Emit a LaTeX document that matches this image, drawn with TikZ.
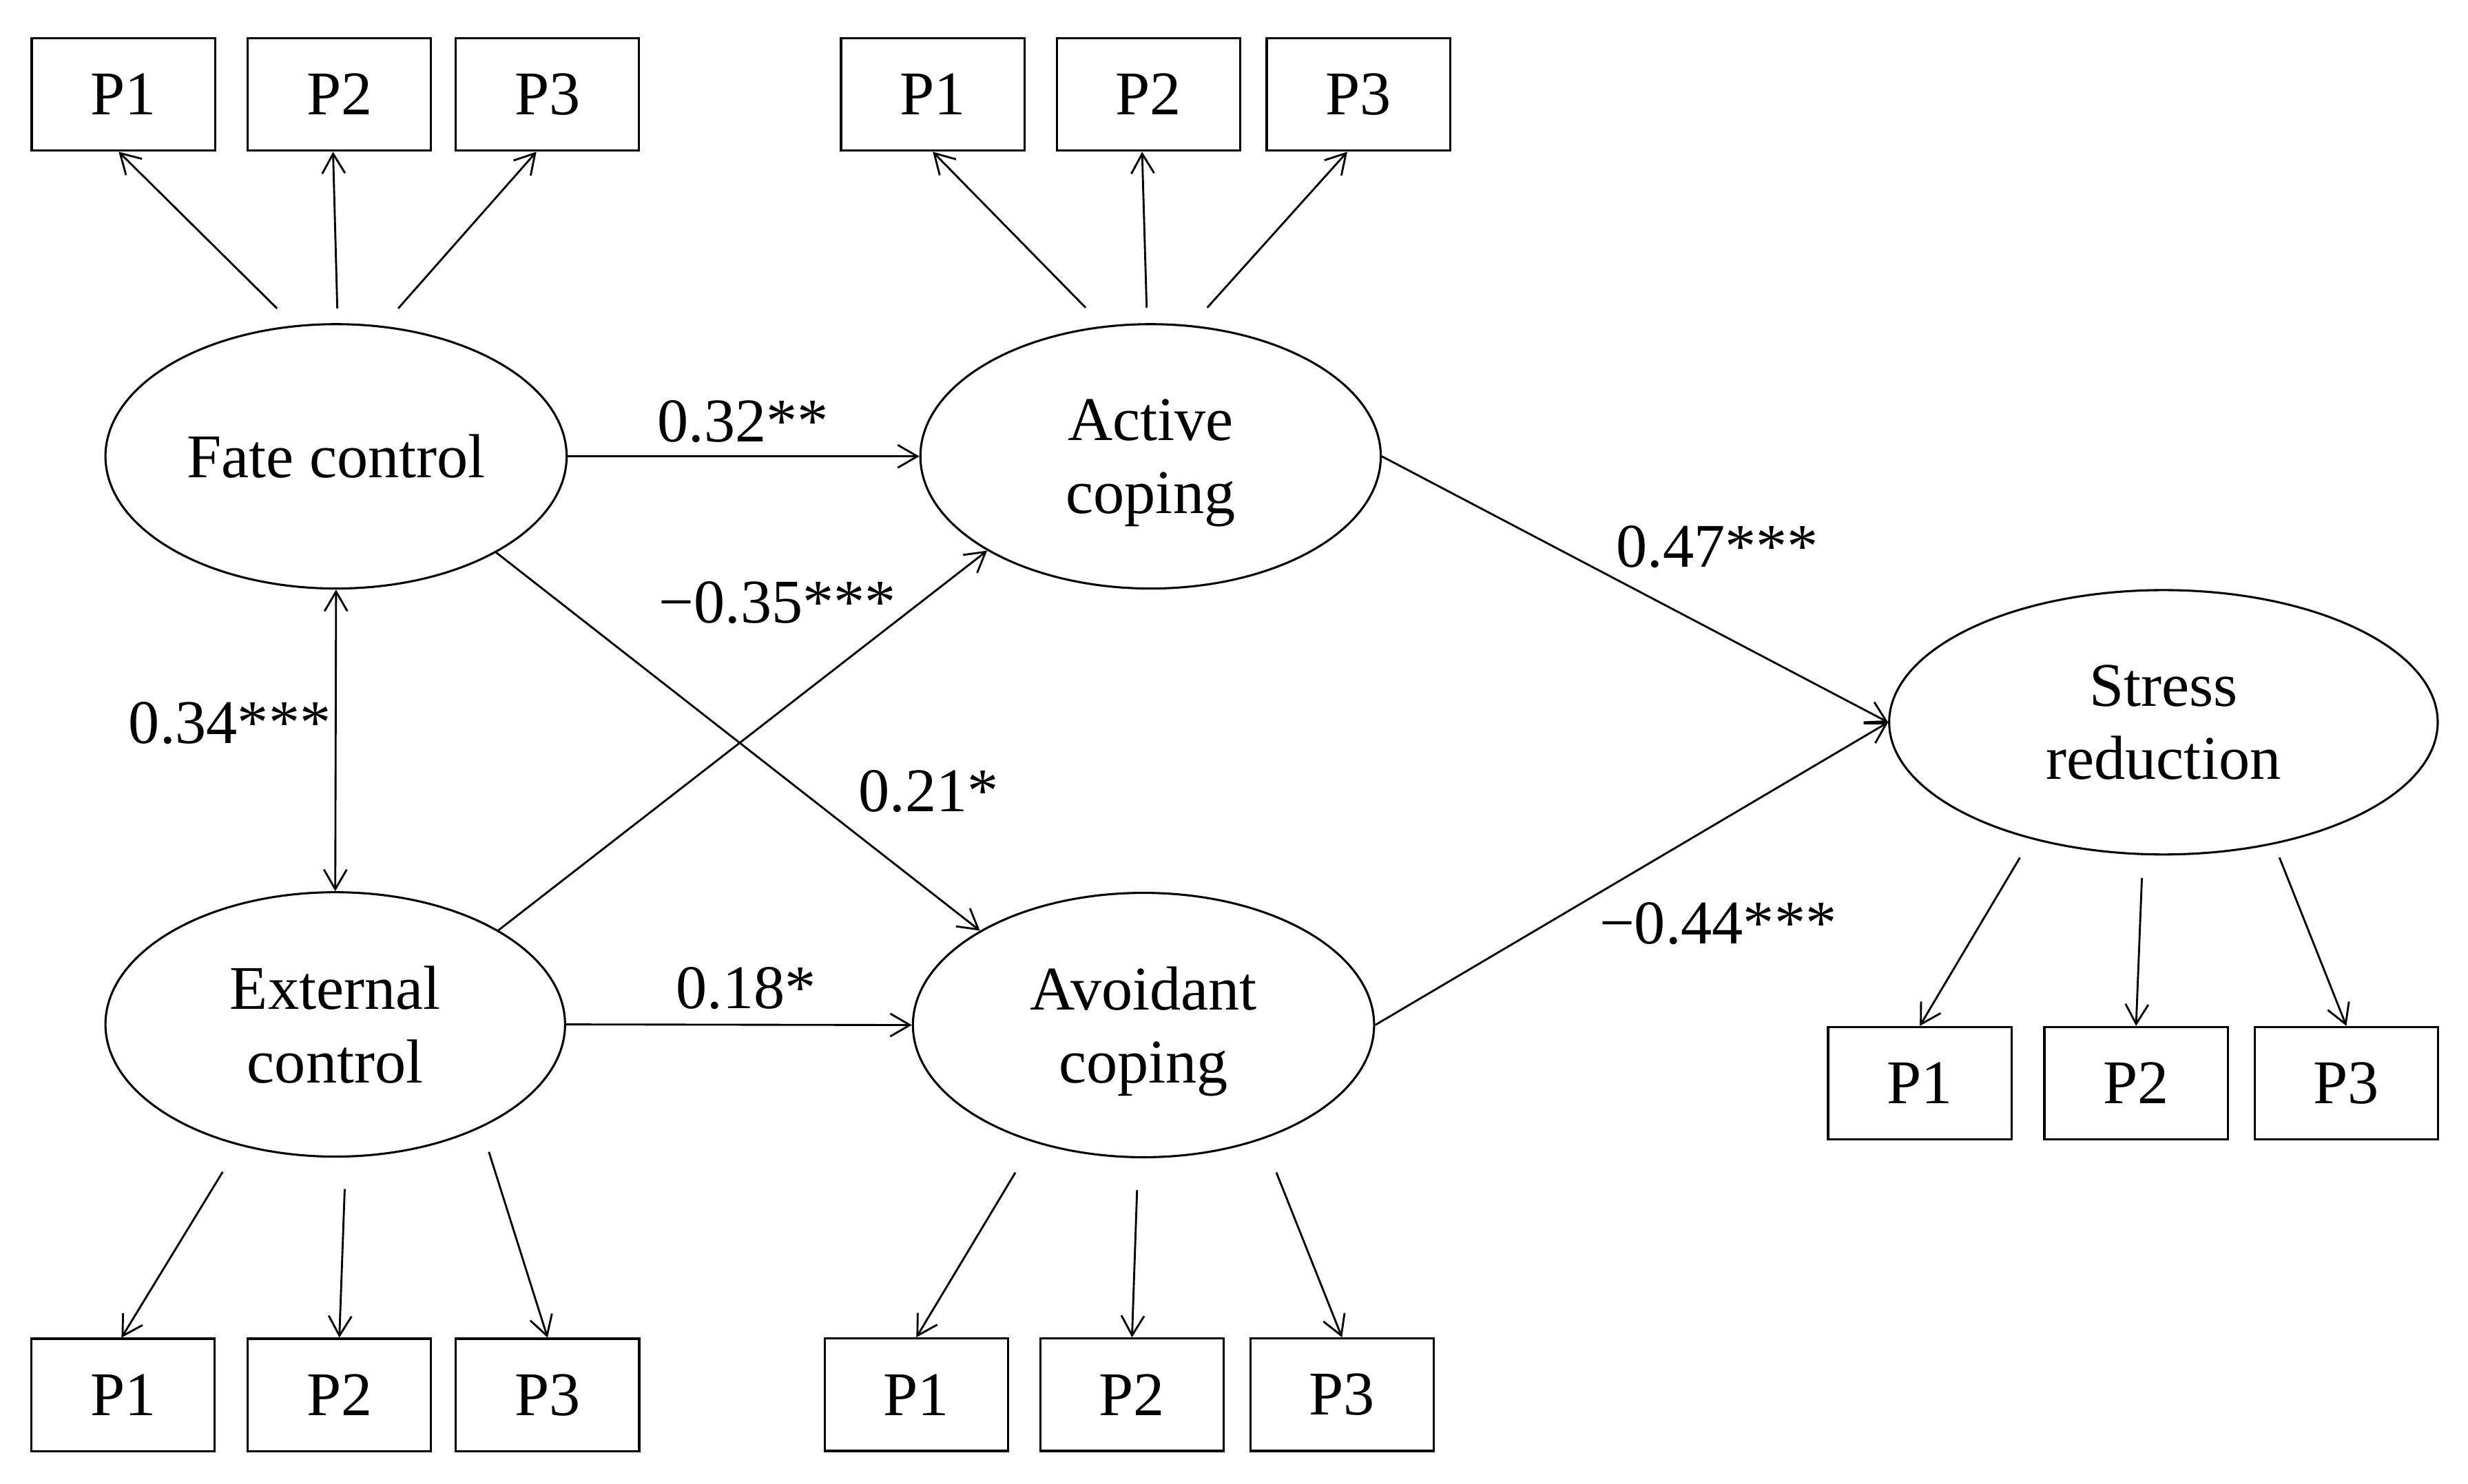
\documentclass[tikz,border=0pt]{standalone}
\usepackage{fontspec}
\setmainfont{Liberation Serif}
\usetikzlibrary{arrows.meta,shapes.geometric}
\begin{document}
\begin{tikzpicture}[x=1pt,y=-1pt,
  every node/.style={font=\fontsize{39.5}{46.5}\selectfont, inner sep=0pt},
  ind/.style={draw, line width=1.4pt, minimum width=116.5pt, minimum height=71.5pt},
  lat/.style={draw, ellipse, line width=1.35pt, minimum height=168pt, align=center},
  arr/.style={line width=1.25pt, -{Straight Barb[length=12.5pt,width=14.5pt]}},
  darr/.style={line width=1.25pt, {Straight Barb[length=12.5pt,width=14.5pt]}-{Straight Barb[length=12.5pt,width=14.5pt]}}]
\useasboundingbox (0,0) rectangle (1568,943);

% latent variables
\node[lat, minimum width=293pt] (fate) at (213.5,290) {Fate control};
\node[lat, minimum width=292.5pt] (active) at (731,290) {Active\\\smash{coping}};
\node[lat, minimum width=292pt] (ext) at (213,651) {External\\\smash{control}};
\node[lat, minimum width=293pt] (avoid) at (726.5,651.4) {Avoidant\\\smash{coping}};
\node[lat, minimum width=348.5pt] (stress) at (1374.5,459) {Stress\\\smash{reduction}};

% indicators
\node[ind] (fp1) at (78.4,60) {P1};
\node[ind] (fp2) at (215.6,60) {P2};
\node[ind] (fp3) at (347.8,60) {P3};
\node[ind] (ap1) at (592.6,60) {P1};
\node[ind] (ap2) at (729.6,60) {P2};
\node[ind] (ap3) at (863,60) {P3};
\node[ind] (ep1) at (78.2,886.5) {P1};
\node[ind] (ep2) at (215.6,886.5) {P2};
\node[ind] (ep3) at (347.9,886.5) {P3};
\node[ind] (vp1) at (582.2,886.3) {P1};
\node[ind] (vp2) at (719.2,886.3) {P2};
\node[ind] (vp3) at (852.6,886.3) {P3};
\node[ind] (sp1) at (1219.7,688.4) {P1};
\node[ind] (sp2) at (1357.1,688.4) {P2};
\node[ind] (sp3) at (1490.7,688.4) {P3};

% free start points of the loading arrows
\coordinate (fs1) at (176,196);
\coordinate (fs2) at (214.3,196);
\coordinate (fs3) at (253,196);
\coordinate (as1) at (689.7,195.5);
\coordinate (as2) at (728.5,195.5);
\coordinate (as3) at (767,195.5);
\coordinate (es1) at (141.5,744.7);
\coordinate (es2) at (219,755.6);
\coordinate (es3) at (310.6,732);
\coordinate (vs1) at (645.1,745.1);
\coordinate (vs2) at (722.4,756.3);
\coordinate (vs3) at (810.9,745.1);
\coordinate (ss1) at (1283.3,545);
\coordinate (ss2) at (1360.8,557.9);
\coordinate (ss3) at (1448.2,545);

\draw[arr] (fs1) -- ([xshift=-3pt]fp1.south);
\draw[arr] (fs2) -- ([xshift=-4pt]fp2.south);
\draw[arr] (fs3) -- ([xshift=-7pt]fp3.south);
\draw[arr] (as1) -- (ap1.south);
\draw[arr] (as2) -- ([xshift=-4pt]ap2.south);
\draw[arr] (as3) -- ([xshift=-7pt]ap3.south);
\draw[arr] (es1) -- ([xshift=-1pt]ep1.north);
\draw[arr] (es2) -- (ep2.north);
\draw[arr] (es3) -- (ep3.north);
\draw[arr] (vs1) -- (vp1.north);
\draw[arr] (vs2) -- (vp2.north);
\draw[arr] (vs3) -- (vp3.north);
\draw[arr] (ss1) -- (sp1.north);
\draw[arr] (ss2) -- (sp2.north);
\draw[arr] (ss3) -- (sp3.north);

% structural paths
\draw[arr] (fate.east) -- (active.west);
\draw[arr] (fate.-31) -- (avoid.150);
\draw[arr] (ext.30) -- (active.210);
\draw[arr] (ext.east) -- (avoid.west);
\draw[darr] (fate.south) -- (ext.north);
\draw[arr] (active.east) -- (stress.west);
\draw[arr] (avoid.east) -- (stress.west);

% coefficients
\node (l032) at (472,268) {0.32**};
\node (l035) at (494,383) {−0.35***};
\node (l034) at (146,459.6) {0.34***};
\node (l021) at (590,502.7) {0.21*};
\node (l018) at (474,628) {0.18*};
\node (l047) at (1091,347.7) {0.47***};
\node (l044) at (1091.5,586.8) {−0.44***};
\end{tikzpicture}
\end{document}
